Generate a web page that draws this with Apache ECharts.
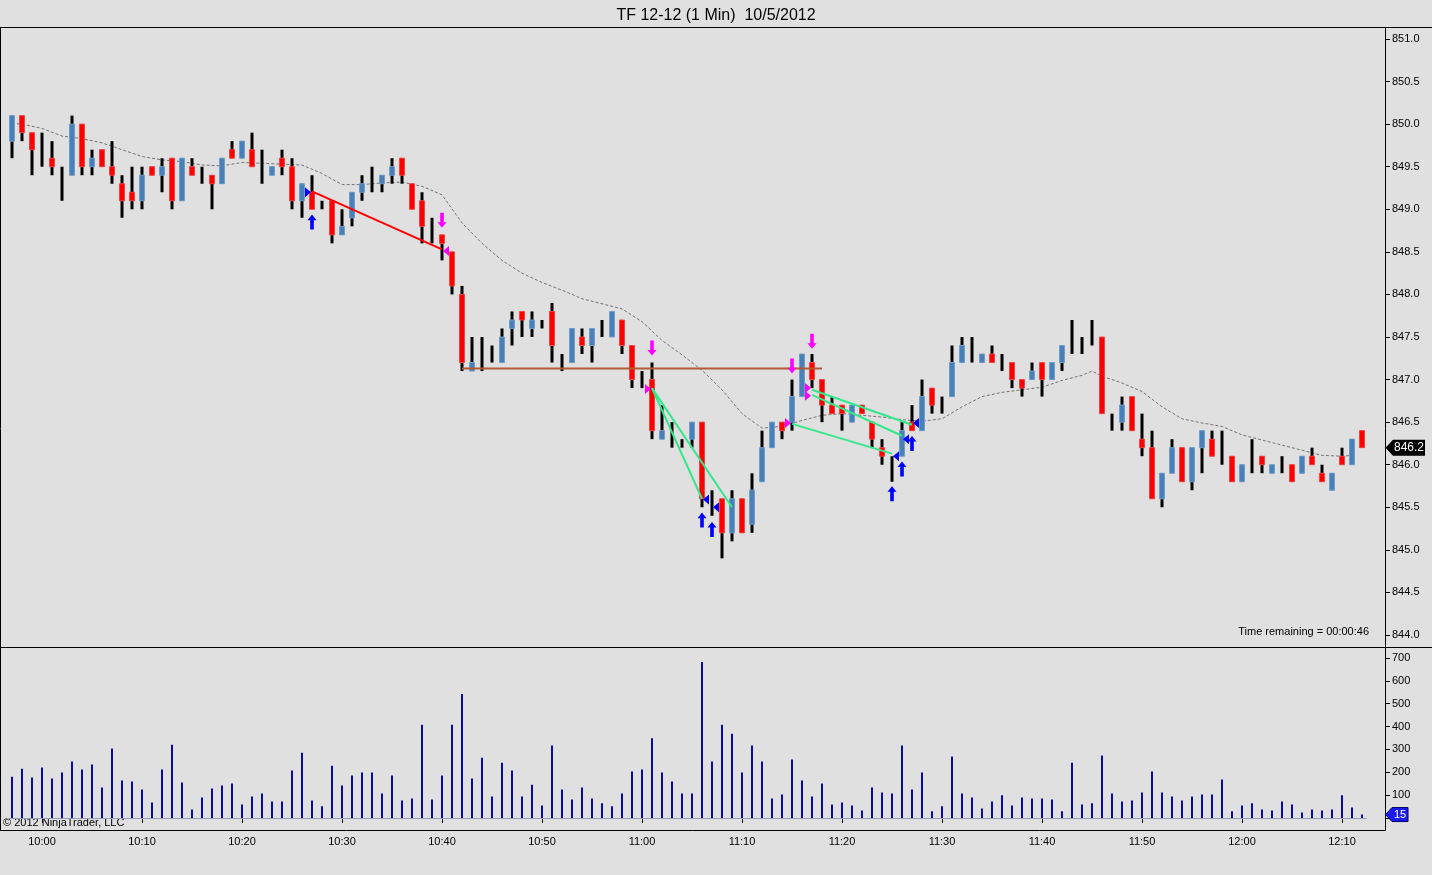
<!DOCTYPE html>
<html>
<head>
<meta charset="utf-8">
<script src="https://cdn.jsdelivr.net/npm/echarts@6/dist/echarts.min.js"></script>
<style>
html,body{margin:0;padding:0;background:#e0e0e0;}
#chart{width:1432px;height:875px;}
</style>
</head>
<body>
<div id="chart"></div>
<script>
const times = ['9:57','9:58','9:59',
'10:00','10:01','10:02','10:03','10:04','10:05','10:06','10:07','10:08','10:09',
'10:10','10:11','10:12','10:13','10:14','10:15','10:16','10:17','10:18','10:19',
'10:20','10:21','10:22','10:23','10:24','10:25','10:26','10:27','10:28','10:29',
'10:30','10:31','10:32','10:33','10:34','10:35','10:36','10:37','10:38','10:39',
'10:40','10:41','10:42','10:43','10:44','10:45','10:46','10:47','10:48','10:49',
'10:50','10:51','10:52','10:53','10:54','10:55','10:56','10:57','10:58','10:59',
'11:00','11:01','11:02','11:03','11:04','11:05','11:06','11:07','11:08','11:09',
'11:10','11:11','11:12','11:13','11:14','11:15','11:16','11:17','11:18','11:19',
'11:20','11:21','11:22','11:23','11:24','11:25','11:26','11:27','11:28','11:29',
'11:30','11:31','11:32','11:33','11:34','11:35','11:36','11:37','11:38','11:39',
'11:40','11:41','11:42','11:43','11:44','11:45','11:46','11:47','11:48','11:49',
'11:50','11:51','11:52','11:53','11:54','11:55','11:56','11:57','11:58','11:59',
'12:00','12:01','12:02','12:03','12:04','12:05','12:06','12:07','12:08','12:09',
'12:10','12:11','12:12'];

const opens = [849.8,850.1,849.9,849.7,849.6,849.4,849.4,850.0,849.5,849.7,
849.5,849.3,849.2,849.1,849.5,849.4,849.6,849.1,849.5,849.4,
849.4,849.3,849.7,849.6,849.7,849.5,849.4,849.6,849.5,849.1,
849.2,849.0,849.1,848.7,848.9,849.2,849.3,849.3,849.4,849.6,
849.3,849.1,848.7,848.7,848.5,848.0,847.1,847.2,847.2,847.2,
847.6,847.8,847.6,847.7,847.8,847.2,847.2,847.5,847.4,847.6,
847.5,847.7,847.4,847.0,847.0,846.3,846.3,846.3,846.3,846.5,
845.5,845.6,845.2,845.6,845.3,845.8,846.2,846.5,846.5,846.8,
847.2,847.0,846.7,846.7,846.5,846.7,846.5,846.2,846.1,846.1,
846.5,846.4,846.9,846.7,846.8,847.2,847.4,847.2,847.3,847.2,
847.2,847.0,847.0,847.2,847.0,847.2,847.4,847.4,847.5,847.5,
846.5,846.5,846.8,846.3,846.2,845.6,845.9,846.2,845.8,846.2,
846.3,846.1,846.1,845.8,846.0,846.1,845.9,846.0,846.0,845.9,
846.1,845.9,845.7,846.1,846.0,846.4];
const highs = [850.1,850.1,849.9,849.9,849.8,849.5,850.1,850.0,849.7,849.7,
849.8,849.4,849.5,849.5,849.5,849.6,849.6,849.6,849.6,849.5,
849.4,849.6,849.8,849.8,849.9,849.7,849.5,849.7,849.6,849.3,
849.4,849.1,849.1,849.0,849.2,849.4,849.5,849.4,849.6,849.6,
849.3,849.2,848.9,848.7,848.5,848.1,847.5,847.5,847.4,847.6,
847.8,847.8,847.8,847.7,847.9,847.3,847.6,847.6,847.6,847.7,
847.8,847.7,847.4,847.1,847.2,846.7,846.5,846.3,846.5,846.5,
845.7,845.6,845.7,845.6,845.9,846.4,846.5,846.5,847.0,847.3,
847.3,847.0,846.8,846.7,846.7,846.7,846.5,846.3,846.1,846.5,
846.7,847.0,846.9,846.8,847.4,847.5,847.5,847.3,847.4,847.3,
847.2,847.0,847.2,847.2,847.2,847.4,847.7,847.5,847.7,847.5,
846.6,846.8,846.8,846.6,846.4,845.9,846.3,846.2,846.2,846.4,
846.4,846.4,846.1,846.0,846.3,846.1,846.0,846.1,846.0,846.1,
846.2,846.0,845.9,846.2,846.3,846.4];
const lows = [849.6,849.8,849.4,849.5,849.4,849.1,849.4,849.4,849.4,849.5,
849.3,848.9,849.0,849.0,849.4,849.2,849.0,849.1,849.4,849.3,
849.0,849.3,849.6,849.6,849.5,849.3,849.4,849.4,849.0,848.9,
849.0,849.0,848.6,848.7,848.8,849.1,849.2,849.2,849.3,849.3,
849.0,848.6,848.6,848.4,848.0,847.1,847.1,847.1,847.2,847.2,
847.4,847.5,847.5,847.6,847.2,847.1,847.2,847.3,847.2,847.5,
847.5,847.3,846.9,846.9,846.3,846.3,846.2,846.2,846.2,845.5,
845.4,844.9,845.1,845.2,845.2,845.8,846.2,846.3,846.4,846.8,
846.9,846.5,846.6,846.4,846.5,846.6,846.2,846.0,845.8,846.1,
846.4,846.4,846.6,846.6,846.8,847.2,847.2,847.2,847.2,847.1,
846.9,846.8,847.0,846.8,847.0,847.1,847.3,847.3,847.4,846.6,
846.4,846.4,846.4,846.1,845.6,845.5,845.9,845.8,845.7,845.9,
846.1,846.0,845.8,845.8,845.9,845.9,845.9,845.9,845.8,845.9,
846.0,845.8,845.7,846.0,846.0,846.2];
const closes = [850.1,849.9,849.7,849.7,849.5,849.4,850.0,849.5,849.6,849.5,
849.4,849.1,849.1,849.4,849.4,849.5,849.1,849.6,849.4,849.4,
849.3,849.6,849.6,849.8,849.5,849.5,849.5,849.5,849.1,849.3,
849.0,849.0,848.7,848.8,849.2,849.3,849.3,849.4,849.5,849.4,
849.0,848.8,848.7,848.6,848.1,847.2,847.2,847.2,847.2,847.5,
847.7,847.7,847.7,847.7,847.4,847.2,847.6,847.4,847.6,847.6,
847.8,847.4,847.0,847.0,846.4,846.4,846.3,846.3,846.5,845.6,
845.5,845.2,845.6,845.2,845.7,846.2,846.5,846.4,846.8,847.3,
847.0,846.7,846.6,846.6,846.7,846.6,846.3,846.1,846.1,846.4,
846.4,846.8,846.7,846.7,847.2,847.4,847.4,847.3,847.2,847.2,
847.0,846.9,847.1,847.0,847.2,847.4,847.4,847.4,847.5,846.6,
846.5,846.7,846.4,846.2,845.6,845.9,846.2,845.8,846.2,846.4,
846.1,846.1,845.8,846.0,846.0,846.0,846.0,846.0,845.8,846.1,
846.0,845.8,845.9,846.0,846.3,846.2];

const volumes = [181,216,177,221,173,199,247,212,234,133,
304,164,160,125,68,212,321,155,37,90,
129,142,151,59,94,107,72,72,208,286,
77,51,229,142,186,199,199,107,186,77,
85,408,81,186,408,543,173,264,94,242,
208,94,146,55,317,125,81,133,85,64,
51,107,203,212,349,199,160,107,107,683,
247,408,369,199,317,247,85,103,256,164,
94,151,59,68,55,33,133,112,107,317,
125,199,29,51,269,107,90,42,72,99,
55,90,85,85,81,29,242,59,64,273,
107,72,77,112,203,112,94,77,94,103,
103,168,29,55,64,37,33,72,59,24,
37,33,37,99,46,15];

// moving average: [bar index, value]
const maPoints = [[0,850.01],[1,850.0],[3,849.95],[5,849.86],[7,849.83],[9,849.78],[11,849.70],
[13,849.62],[15,849.58],[17,849.56],[19,849.52],[21,849.51],[23,849.55],[25,849.54],[27,849.53],
[29,849.52],[31,849.42],[33,849.29],[35,849.29],[37,849.31],[39,849.32],[41,849.27],[43,849.17],
[45,848.84],[47,848.60],[49,848.40],[51,848.25],[53,848.14],[55,848.05],[57,847.95],[59,847.89],
[61,847.83],[63,847.68],[65,847.46],[67,847.29],[69,847.11],[71,846.88],[73,846.60],[75,846.43],
[77,846.45],[79,846.52],[81,846.58],[83,846.60],[85,846.58],[87,846.56],[89,846.53],[91,846.51],
[93,846.54],[95,846.68],[97,846.80],[99,846.85],[101,846.88],[103,846.91],[105,846.99],[107,847.05],
[108,847.10],[109,847.04],[111,846.96],[113,846.86],[115,846.68],[117,846.54],[119,846.49],[121,846.45],
[123,846.35],[125,846.29],[127,846.23],[129,846.17],[131,846.11],[133,846.10],[134,846.11]];

// drawn objects: [startIndex, startPrice, endIndex, endPrice]
const redLines = [[30,849.21,43,848.53]];
const brownLines = [[45,847.13,81,847.13]];
const greenLines = [[64,846.90,69,845.60],[64,846.90,72,845.50],[78,846.48,88,846.13],[80,846.82,89,846.34],[80,846.88,90,846.47]];
// markers: [index, price]
const blueUpArrows = [[30,848.85],[69,845.35],[70,845.24],[88,845.66],[89,845.95],[90,846.25]];
const magentaDownArrows = [[43,848.87],[64,847.37],[78,847.16],[80,847.45]];
const blueRightTriangles = [[30,849.20]];
const blueLeftTriangles = [[69,845.59],[70,845.50],[88,846.10],[89,846.30],[90,846.49]];
const magentaLeftTriangles = [[43,848.51]];
const magentaRightTriangles = [[64,846.89],[78,846.49],[80,846.90],[80,846.81]];

const priceTicks = {min:844, max:851, interval:0.5};
const volTicks = {min:0, max:700, interval:100};

const FONT = 'Liberation Sans, Arial, sans-serif';
const chart = echarts.init(document.getElementById('chart'), null, {renderer:'canvas'});

const wickData = lows.map((l,i)=>[l, highs[i], l, highs[i]]);
const bodyData = opens.map((o,i)=>{
  const c = closes[i];
  if (o === c) return '-';
  return [o, c, Math.min(o,c), Math.max(o,c)];
});
const maData = times.map(()=>null);
maPoints.forEach(p=>{ maData[p[0]] = p[1]; });

function segSeries(list, color){
  return list.map(s=>({
    type:'line', xAxisIndex:0, yAxisIndex:0, silent:true, z:6,
    data:[[s[0],s[1]],[s[2],s[3]]], symbol:'none',
    lineStyle:{color:color, width:2}
  }));
}
const arrowPath = 'path://M5,0 L10,6 L7,6 L7,16 L3,16 L3,6 L0,6 Z';
function markerSeries(list, color, symbol, size, rotate, offset){
  return {type:'scatter', xAxisIndex:0, yAxisIndex:0, silent:true, z:8,
    data:list, symbol:symbol, symbolSize:size, symbolRotate:rotate, symbolOffset:offset,
    itemStyle:{color:color, opacity:1}};
}
const isLabel = (i)=>/:\d0$/.test(times[i]);

const option = {
  animation:false,
  backgroundColor:'#e0e0e0',
  title:{text:'TF 12-12 (1 Min)  10/5/2012', left:'center', top:3,
    textStyle:{fontFamily:FONT, fontSize:16, fontWeight:'normal', color:'#000'}},
  grid:[
    {left:7, right:65, top:39, height:596},
    {left:7, right:65, top:658, height:160}
  ],
  xAxis:[
    {type:'category', gridIndex:0, data:times, show:false, boundaryGap:true},
    {type:'category', gridIndex:1, data:times, boundaryGap:true, position:'bottom', offset:12,
     axisLine:{show:false},
     axisTick:{show:true, interval:isLabel, alignWithLabel:true, length:5, lineStyle:{color:'#000'}},
     axisLabel:{interval:isLabel, color:'#000', fontFamily:FONT, fontSize:11, margin:6},
     splitLine:{show:false}}
  ],
  yAxis:[
    {type:'value', gridIndex:0, position:'right', offset:18, min:priceTicks.min, max:priceTicks.max, interval:priceTicks.interval,
     axisLine:{show:false}, axisTick:{show:true, length:5, lineStyle:{color:'#000'}},
     axisLabel:{color:'#000', fontFamily:FONT, fontSize:11, margin:7, formatter:(v)=>v.toFixed(1)},
     splitLine:{show:false}},
    {type:'value', gridIndex:1, position:'right', offset:18, min:volTicks.min, max:volTicks.max, interval:volTicks.interval,
     axisLine:{show:false}, axisTick:{show:true, length:5, lineStyle:{color:'#000'}},
     axisLabel:{color:'#000', fontFamily:FONT, fontSize:11, margin:7, formatter:(v)=> v===0 ? '' : String(v)},
     splitLine:{show:false}}
  ],
  series:[
    {type:'line', name:'MA', xAxisIndex:0, yAxisIndex:0, data:maData, connectNulls:true, symbol:'none', silent:true, z:1,
     lineStyle:{color:'#747474', width:1, type:[3,2]}},
    {type:'candlestick', name:'wick', xAxisIndex:0, yAxisIndex:0, data:wickData, barWidth:3, silent:true, z:2,
     itemStyle:{color:'#000', color0:'#000', borderColor:'#000', borderColor0:'#000', borderWidth:0}},
    {type:'candlestick', name:'body', xAxisIndex:0, yAxisIndex:0, data:bodyData, barWidth:6, silent:true, z:3,
     itemStyle:{color:'#4a80b8', color0:'#ff0000', borderColor:'#6f9dcc', borderColor0:'#f24444', borderWidth:1}},
    ...segSeries(brownLines, '#b25a34'),
    ...segSeries(redLines, '#ff0000'),
    ...segSeries(greenLines, '#33e88a'),
    markerSeries(blueUpArrows, '#0000ff', arrowPath, [9,15], 0, [0,0]),
    markerSeries(magentaDownArrows, '#ff00ff', arrowPath, [9,15], 180, [0,0]),
    markerSeries(blueRightTriangles, '#0000ff', 'triangle', [10,6], -90, [-4,0]),
    markerSeries(blueLeftTriangles, '#0000ff', 'triangle', [10,6], 90, [4,0]),
    markerSeries(magentaLeftTriangles, '#ff00ff', 'triangle', [10,6], 90, [4,0]),
    markerSeries(magentaRightTriangles, '#ff00ff', 'triangle', [10,6], -90, [-4,0]),
    {type:'bar', name:'Volume', xAxisIndex:1, yAxisIndex:1, data:volumes, barWidth:2, silent:true,
     itemStyle:{color:'#0a0aa8'},
     markLine:{silent:true, symbol:'none', label:{show:false}, data:[{yAxis:0}],
       lineStyle:{color:'#9a9abc', width:1, type:'solid'}}}
  ]
};
chart.setOption(option);

const last = closes.length - 1;
const yP = chart.convertToPixel({yAxisIndex:0}, closes[last]);
const yV = chart.convertToPixel({yAxisIndex:1}, volumes[last]);
const axisX = 1385.5;
chart.setOption({
  graphic:[
    {type:'line', shape:{x1:0, y1:27.5, x2:1432, y2:27.5}, style:{stroke:'#000', lineWidth:1}, silent:true},
    {type:'line', shape:{x1:0.5, y1:27, x2:0.5, y2:830}, style:{stroke:'#000', lineWidth:1}, silent:true},
    {type:'line', shape:{x1:axisX, y1:27, x2:axisX, y2:830.5}, style:{stroke:'#000', lineWidth:1}, silent:true},
    {type:'line', shape:{x1:0, y1:647.5, x2:1432, y2:647.5}, style:{stroke:'#000', lineWidth:1}, silent:true},
    {type:'line', shape:{x1:0, y1:830.5, x2:axisX, y2:830.5}, style:{stroke:'#000', lineWidth:1}, silent:true},
    {type:'text', x:1369, y:632, silent:true,
     style:{text:'Time remaining = 00:00:46', fill:'#000', font:'11px '+FONT, textAlign:'right', textVerticalAlign:'middle'}},
    {type:'text', x:3, y:823, silent:true,
     style:{text:'\u00a9 2012 NinjaTrader, LLC', fill:'#000', font:'11px '+FONT, textAlign:'left', textVerticalAlign:'middle'}},
    {type:'polygon', silent:true, z:10,
     shape:{points:[[axisX,yP],[1393,yP-8],[1425,yP-8],[1425,yP+8],[1393,yP+8]]}, style:{fill:'#000'}},
    {type:'text', x:1409, y:yP, silent:true, z:11,
     style:{text:closes[last].toFixed(1), fill:'#fff', font:'12px '+FONT, textAlign:'center', textVerticalAlign:'middle'}},
    {type:'polygon', silent:true, z:10,
     shape:{points:[[axisX,yV],[1392,yV-7],[1408,yV-7],[1408,yV+7],[1392,yV+7]]}, style:{fill:'#1c1cf0', stroke:'#000060', lineWidth:1}},
    {type:'text', x:1400, y:yV, silent:true, z:11,
     style:{text:String(volumes[last]), fill:'#fff', font:'11px '+FONT, textAlign:'center', textVerticalAlign:'middle'}}
  ]
});
</script>
</body>
</html>
